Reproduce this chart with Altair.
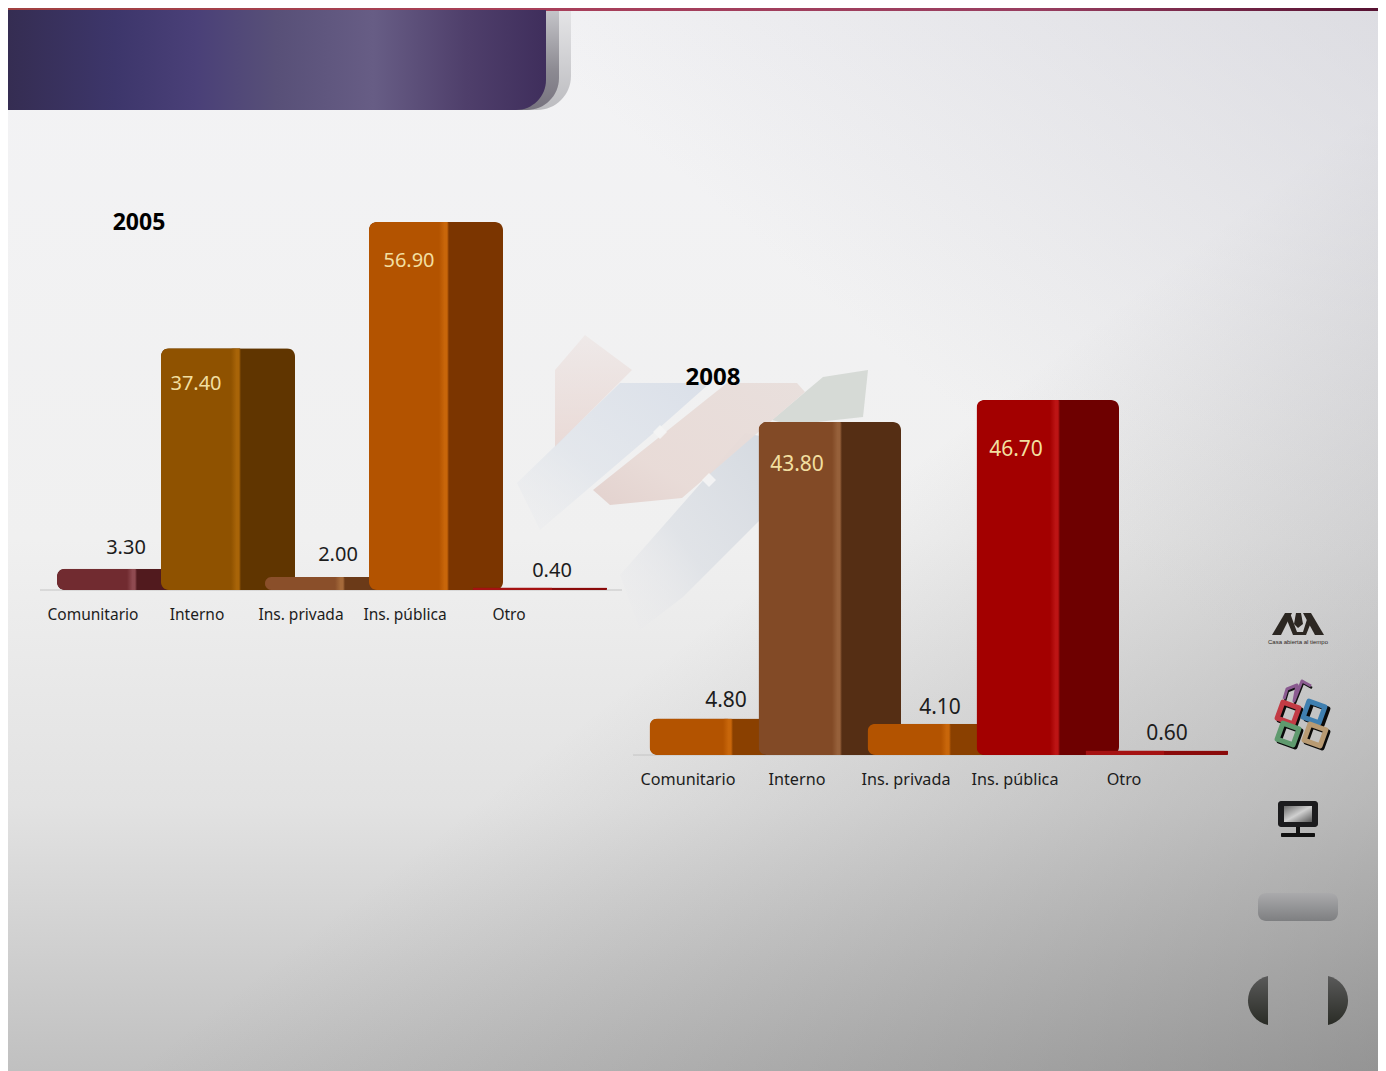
import math
import altair as alt
import pandas as pd

# ---------- data ----------
CATEGORIES = ["Comunitario", "Interno", "Ins. privada", "Ins. pública", "Otro"]
VALUES_2005 = [3.30, 37.40, 2.00, 56.90, 0.40]
VALUES_2008 = [4.80, 43.80, 4.10, 46.70, 0.60]
TITLE_2005 = "2005"
TITLE_2008 = "2008"
LOGO_TEXT = "Casa abierta al tiempo"

W, H, M = 1370, 1063, 8
ONE = alt.Data(values=[{"k": 0}])
FONT = "Noto Sans"


def grad(stops, x1=0, y1=0, x2=0, y2=1):
    return alt.LinearGradient(
        gradient="linear", x1=x1, y1=y1, x2=x2, y2=y2,
        stops=[alt.GradientStop(offset=o, color=c) for o, c in stops],
    )


def box(x0, y0, x1, y1, fill, **kw):
    return alt.Chart(ONE).mark_rect(color=fill, **kw).encode(
        x=alt.value(x0 - M), x2=alt.value(x1 - M),
        y=alt.value(y0 - M), y2=alt.value(y1 - M),
    )


def poly_path(points, close=True):
    d = "M" + " L".join(f"{x - M} {y - M}" for x, y in points)
    return d + (" Z" if close else "")


def shape(path, fill, opacity=1.0):
    return alt.Chart(ONE).mark_point(
        shape=path, size=4, filled=True, fill=fill, strokeWidth=0, opacity=opacity
    ).encode(x=alt.value(0), y=alt.value(0))


def line_shape(path, stroke, width):
    return alt.Chart(ONE).mark_point(
        shape=path, size=4, filled=False, stroke=stroke, strokeWidth=width,
        opacity=1, strokeJoin="round",
    ).encode(x=alt.value(0), y=alt.value(0))


def ring(cx, cy, r, deg):
    pts = []
    for k in range(4):
        a = math.radians(deg + 45 + 90 * k)
        pts.append((cx + r * math.cos(a), cy + r * math.sin(a)))
    return poly_path(pts)


# ---------- page decoration ----------
PAGE_R = M + W
PAGE_B = M + H
decor = [
    box(M, M, PAGE_R, PAGE_B, grad([(0, "#f3f3f5"), (0.5, "#f0f0f0"), (0.75, "#e2e2e2"), (1, "#c0c0c0")])),
    box(M, M, PAGE_R, PAGE_B, grad([(0, "rgba(100,100,100,0)"), (0.35, "rgba(100,100,100,0)"), (1, "rgba(95,95,95,0.45)")], 0.3, 0.3, 1, 1)),
    box(M, M, PAGE_R, PAGE_B, grad([(0, "rgba(190,190,200,0)"), (0.35, "rgba(190,190,200,0)"), (1, "rgba(190,190,200,0.42)")], 0.45, 0.5, 1, 0)),
    # watermark
    shape(poly_path([(555, 370), (585, 335), (632, 370), (555, 447)]),
          grad([(0, "rgba(232,214,210,0.3)"), (1, "rgba(232,214,210,0.85)")], 0, 0, 0, 1)),
    shape(poly_path([(620, 383), (710, 383), (657, 430), (540, 530), (517, 483)]),
          grad([(0, "rgba(216,222,232,0.9)"), (0.6, "rgba(222,227,234,0.7)"), (1, "rgba(230,232,236,0.15)")], 1, 0, 0, 1)),
    shape(poly_path([(745, 433), (760, 436), (760, 520), (683, 597), (640, 630), (620, 575)]),
          grad([(0, "rgba(212,217,224,0.95)"), (0.55, "rgba(218,222,228,0.7)"), (1, "rgba(232,232,236,0)")], 1, 0, 0, 1)),
    shape(poly_path([(823, 377), (868, 370), (863, 417), (790, 425), (772, 420)]), "#d3d7d3", 0.9),
    shape(poly_path([(727, 383), (797, 383), (805, 392), (682, 498), (610, 505), (593, 490)]),
          grad([(0, "rgba(232,222,219,0.95)"), (0.7, "rgba(232,218,214,0.95)"), (1, "rgba(226,208,204,0.95)")], 1, 0, 0, 1)),
    shape(poly_path([(660, 425), (667, 432), (660, 439), (653, 432)]), "#f4f4f4", 0.9),
    shape(poly_path([(709, 473), (716, 480), (709, 487), (702, 480)]), "#f4f4f4", 0.9),
    # header
    box(M, M, PAGE_R, 11, grad([(0, "#a04040"), (0.4, "#a83f5a"), (0.75, "#983e60"), (1, "#561232")], 0, 0, 1, 0)),
    box(M, 11, 571, 110, grad([(0, "#e4e4e6"), (1, "#bcbcc0")]), cornerRadiusBottomRight=34),
    box(M, 11, 559, 110, grad([(0, "#c4c4c8"), (0.6, "#8c8a92"), (1, "#77737f")]), cornerRadiusBottomRight=32),
    box(M, 10, 546, 110, grad([(0, "#352d52"), (0.2, "#3d366b"), (0.35, "#4a4078"), (0.5, "#585078"),
                               (0.68, "#675d85"), (0.85, "#4f3f6b"), (1, "#3f2e5c")], 0, 0, 1, 0),
        cornerRadiusBottomRight=30),
    # UAM logo
    shape(poly_path([(1272, 635), (1285, 613), (1292, 613), (1281, 635)]), "#2c2722"),
    shape(poly_path([(1287, 620), (1290, 613), (1297, 632), (1303, 632), (1309, 613), (1312, 620), (1306, 635), (1293, 635)]), "#2c2722"),
    shape(poly_path([(1303, 613), (1311, 613), (1324, 635), (1315, 635)]), "#2c2722"),
    shape(poly_path([(1296, 613), (1301, 613), (1303, 624), (1298, 628), (1294, 624)]), "#2c2722"),
    alt.Chart(ONE).mark_text(text=LOGO_TEXT, font="Liberation Sans", fontSize=6, color="#2c2722").encode(
        x=alt.value(1298 - M), y=alt.value(642 - M)),
    # coloured squares icon
    line_shape(poly_path([(1285, 701), (1288, 691), (1298, 687), (1295, 703), (1303, 683), (1312, 688)], False), "#111111", 2.5),
    line_shape(poly_path([(1284, 699), (1287, 689), (1297, 685), (1294, 701), (1302, 681), (1311, 686)], False), "#8a5a90", 3),
    line_shape(ring(1290, 715, 12, 20), "#0a0a0a", 5),
    line_shape(ring(1317, 714, 12, 20), "#0a0a0a", 5),
    line_shape(ring(1290, 736, 12, 20), "#0a0a0a", 5),
    line_shape(ring(1317, 737, 12, 20), "#0a0a0a", 5),
    line_shape(ring(1288, 713, 12, 20), "#c23b45", 5),
    line_shape(ring(1314, 712, 12, 20), "#3f7fb0", 5),
    line_shape(ring(1288, 734, 12, 20), "#5f9a6e", 5),
    line_shape(ring(1315, 735, 12, 20), "#b89a72", 5),
    # monitor icon
    box(1278, 801, 1318, 827, "#1c1c1e", cornerRadius=3),
    box(1284, 806, 1312, 822, grad([(0, "#6a6a6a"), (0.5, "#d0d0d0"), (1, "#555555")], 0, 0, 1, 1)),
    box(1296, 827, 1300, 833, "#111111"),
    box(1281, 833, 1315, 837, "#111111", cornerRadius=1),
    # button
    box(1258, 893, 1338, 921, grad([(0, "#aaaaac"), (1, "#7e7f81")]), cornerRadius=8),
    # navigation half circles
    shape(f"M{1268 - M} {976 - M} A25 25 0 0 0 {1268 - M} {1025 - M} Z", grad([(0, "#5a5a5a"), (1, "#2a2c26")])),
    shape(f"M{1328 - M} {976 - M} A25 25 0 0 1 {1328 - M} {1025 - M} Z", grad([(0, "#5a5a5a"), (1, "#2a2c26")])),
]


# ---------- chart panels ----------
def panel(values, title, title_xy, band_range, y_domain, y_range, base_x, bar_w, bar_dx,
          front_w, front_dx, stripe_dx, palette, label_dx, label_dy, text_colors, lab_size, val_size, title_size):
    df = pd.DataFrame({"cat": CATEGORIES, "val": values})
    x_scale = alt.Scale(type="band", domain=CATEGORIES, range=band_range, paddingInner=0, paddingOuter=0)
    y_scale = alt.Scale(domain=y_domain, range=y_range, nice=False, zero=True)
    X = alt.X("cat:N", scale=x_scale, axis=None, sort=CATEGORIES)
    Y = alt.Y("val:Q", scale=y_scale, axis=None)

    layers = [
        alt.Chart(ONE).mark_rule(color="#c4c4c4", strokeWidth=1).encode(
            x=alt.value(base_x[0] - M), x2=alt.value(base_x[1] - M),
            y=alt.value(y_range[0])),
    ]
    for i, cat in enumerate(CATEGORIES):
        row = df[df["cat"] == cat]
        side, front, stripe = palette[i]
        layers.append(alt.Chart(row).mark_bar(
            width=bar_w, xOffset=bar_dx, color=side, cornerRadius=8 if values[i] > 1 else 1).encode(x=X, y=Y))
        layers.append(alt.Chart(row).mark_bar(
            width=front_w, xOffset=front_dx, color=front,
            cornerRadiusTopLeft=8 if values[i] > 1 else 1,
            cornerRadiusBottomLeft=8 if values[i] > 1 else 1).encode(x=X, y=Y))
        if values[i] > 1:
            layers.append(alt.Chart(row).mark_bar(
                width=10, xOffset=stripe_dx,
                color=grad([(0, front), (0.55, stripe), (0.8, stripe), (1, side)], 0, 0, 1, 0),
                cornerRadiusTopLeft=2, cornerRadiusTopRight=2).encode(x=X, y=Y))
    # category labels
    layers.append(alt.Chart(df).mark_text(
        font=FONT, fontSize=lab_size, color="#1c1c1c", align="center", baseline="middle").encode(
        x=X, y=alt.value(y_range[0] + 25), text="cat:N"))
    # value labels
    for i, cat in enumerate(CATEGORIES):
        row = df[df["cat"] == cat]
        layers.append(alt.Chart(row).mark_text(
            font=FONT, fontSize=val_size, color=text_colors[i], dx=label_dx[i], dy=label_dy[i],
            align="center", baseline="middle").encode(
            x=X, y=Y, text=alt.Text("val:Q", format=".2f")))
    layers.append(alt.Chart(ONE).mark_text(
        text=title, font=FONT, fontSize=title_size, fontWeight="bold", color="#000000").encode(
        x=alt.value(title_xy[0] - M), y=alt.value(title_xy[1] - M)))
    return alt.layer(*layers)


DARK = "#1c1c1c"
CREAM = "#f2dfa0"

p2005 = panel(
    VALUES_2005, TITLE_2005, (139, 223), [41 - M, 561 - M], [0, 60], [582, 194], (40, 622), 134, 31, 79, 3.5, 39,
    [("#511a1e", "#712b30", "#8f4a50"), ("#603500", "#8f5200", "#a86408"),
     ("#6b3a18", "#8a4f2a", "#a56a3a"), ("#7b3500", "#b35300", "#c8660a"),
     ("#8a0a0a", "#a51212", "#a51212")],
    [33, -1, 37, 4, 43], [-21, 36, -22, 39, -16],
    [DARK, CREAM, DARK, CREAM, DARK], 15.5, 20, 23,
)

p2008 = panel(
    VALUES_2008, TITLE_2008, (713, 378), [633.5 - M, 1178.5 - M], [0, 50], [747, 367], (633, 1245), 142, 33, 79, 1, 40,
    [("#8a4000", "#b35300", "#c8660a"), ("#552e14", "#824a26", "#96603a"),
     ("#8a4000", "#b35300", "#c8660a"), ("#6e0000", "#a30000", "#bc1414"),
     ("#8a0a0a", "#a51212", "#a51212")],
    [38, 0, 34, 1, 43], [-18, 43, -16, 50, -16],
    [DARK, CREAM, DARK, CREAM, DARK], 16.2, 21, 24,
)

chart = alt.layer(*decor, p2005, p2008).resolve_scale(x="independent", y="independent").properties(
    width=W, height=H, padding=0,
    autosize=alt.AutoSizeParams(type="none"),
).configure_view(stroke=None)

chart.save("out.html", embed_options={"renderer": "svg", "actions": False})
